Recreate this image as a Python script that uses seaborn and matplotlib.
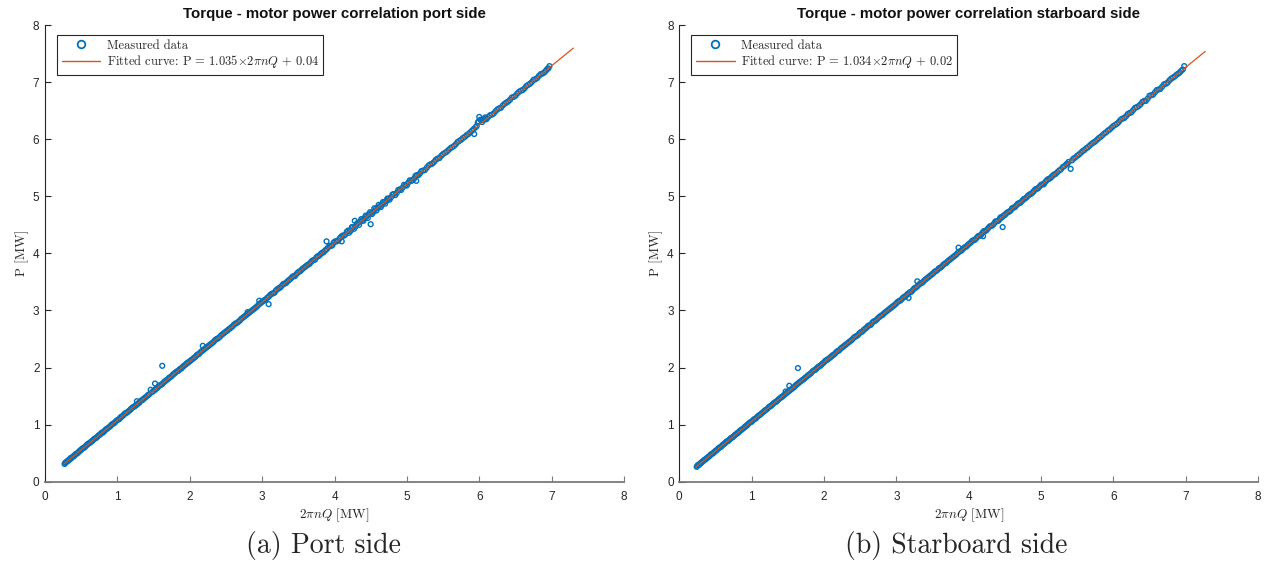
import matplotlib
matplotlib.use("Agg")
import matplotlib.pyplot as plt
from matplotlib.lines import Line2D
import pandas as pd
import seaborn as sns

# ---------------------------------------------------------------- data
port_x = [0.27, 0.29, 0.31, 0.33, 0.35, 0.37, 0.40, 0.42, 0.45, 0.48, 0.50, 0.53, 0.56, 0.59, 0.62, 0.65,
          0.68, 0.71, 0.74, 0.77, 0.80, 0.83, 0.86, 0.90, 0.93, 0.96, 1.00, 1.03, 1.06, 1.10, 1.13, 1.17,
          1.20, 1.24, 1.27, 1.27, 1.30, 1.34, 1.37, 1.41, 1.44, 1.46, 1.48, 1.52, 1.52, 1.55, 1.59, 1.62,
          1.62, 1.66, 1.70, 1.73, 1.77, 1.80, 1.84, 1.88, 1.91, 1.95, 1.98, 2.02, 2.06, 2.10, 2.13, 2.17,
          2.21, 2.18, 2.25, 2.29, 2.33, 2.37, 2.41, 2.45, 2.49, 2.53, 2.57, 2.61, 2.65, 2.69, 2.73, 2.77,
          2.80, 2.81, 2.85, 2.89, 2.93, 2.96, 2.97, 3.01, 3.05, 3.09, 3.09, 3.13, 3.17, 3.21, 3.25, 3.29,
          3.33, 3.37, 3.41, 3.45, 3.49, 3.53, 3.57, 3.61, 3.65, 3.69, 3.73, 3.77, 3.81, 3.85, 3.89, 3.89,
          3.93, 3.97, 4.01, 4.05, 4.09, 4.10, 4.13, 4.17, 4.20, 4.24, 4.27, 4.28, 4.31, 4.34, 4.37, 4.40,
          4.43, 4.46, 4.49, 4.50, 4.52, 4.55, 4.58, 4.61, 4.64, 4.67, 4.70, 4.73, 4.76, 4.80, 4.84, 4.88,
          4.92, 4.96, 5.00, 5.04, 5.08, 5.12, 5.13, 5.16, 5.20, 5.25, 5.30, 5.35, 5.40, 5.45, 5.50, 5.55,
          5.60, 5.65, 5.70, 5.75, 5.80, 5.85, 5.90, 5.95, 5.98, 6.00, 6.03, 5.93, 6.08, 6.10, 6.15, 6.20,
          6.25, 6.30, 6.35, 6.40, 6.45, 6.50, 6.55, 6.60, 6.65, 6.70, 6.75, 6.80, 6.85, 6.90, 6.94, 6.97]
port_p = [0.31, 0.34, 0.36, 0.38, 0.41, 0.42, 0.45, 0.48, 0.50, 0.54, 0.56, 0.59, 0.62, 0.66, 0.68, 0.71,
          0.75, 0.77, 0.81, 0.84, 0.86, 0.90, 0.93, 0.97, 1.01, 1.03, 1.08, 1.10, 1.14, 1.19, 1.21, 1.25,
          1.29, 1.32, 1.35, 1.41, 1.38, 1.43, 1.46, 1.50, 1.53, 1.61, 1.57, 1.61, 1.72, 1.64, 1.69, 1.71,
          2.03, 1.76, 1.80, 1.83, 1.88, 1.91, 1.94, 1.98, 2.02, 2.06, 2.09, 2.13, 2.17, 2.22, 2.24, 2.29,
          2.33, 2.38, 2.37, 2.41, 2.45, 2.50, 2.53, 2.58, 2.62, 2.66, 2.70, 2.75, 2.78, 2.82, 2.87, 2.91,
          2.97, 2.95, 2.99, 3.03, 3.07, 3.17, 3.12, 3.16, 3.19, 3.11, 3.24, 3.29, 3.31, 3.37, 3.40, 3.46,
          3.48, 3.53, 3.58, 3.60, 3.66, 3.69, 3.74, 3.78, 3.81, 3.87, 3.89, 3.95, 3.99, 4.02, 4.21, 4.07,
          4.13, 4.14, 4.21, 4.22, 4.29, 4.21, 4.31, 4.38, 4.36, 4.46, 4.43, 4.57, 4.52, 4.50, 4.60, 4.57,
          4.66, 4.62, 4.72, 4.51, 4.69, 4.79, 4.75, 4.85, 4.81, 4.90, 4.87, 4.96, 4.94, 5.03, 5.02, 5.11,
          5.11, 5.20, 5.19, 5.28, 5.28, 5.36, 5.27, 5.37, 5.44, 5.46, 5.54, 5.57, 5.64, 5.67, 5.74, 5.78,
          5.84, 5.88, 5.95, 5.99, 6.04, 6.09, 6.15, 6.21, 6.29, 6.39, 6.33, 6.09, 6.38, 6.35, 6.42, 6.45,
          6.52, 6.55, 6.62, 6.66, 6.73, 6.76, 6.83, 6.86, 6.93, 6.97, 7.04, 7.07, 7.14, 7.17, 7.23, 7.28]
port_x_b = [0.28, 0.30, 0.32, 0.34, 0.36, 0.385, 0.41, 0.435, 0.465, 0.49, 0.515, 0.545, 0.575, 0.605,
            0.635, 0.665, 0.695, 0.725, 0.755, 0.785, 0.815, 0.845, 0.88, 0.915, 0.945, 0.98, 1.015,
            1.045, 1.08, 1.115, 1.15, 1.185, 1.22, 1.255, 1.285, 1.32, 1.355, 1.39, 1.425, 1.50, 1.535,
            1.57, 1.605, 1.64, 1.68, 1.715, 1.75, 1.785, 1.82, 1.86, 1.895, 1.93, 1.965, 2.00, 2.04, 2.08,
            2.115, 2.15, 2.19, 2.23, 2.27, 2.31, 2.35, 2.39, 2.43, 2.47, 2.51, 2.55, 2.59, 2.63, 2.67,
            2.71, 2.75, 2.79, 2.83, 2.87, 2.91, 2.95, 2.99, 3.03, 3.07, 3.11, 3.15, 3.19, 3.23, 3.27,
            3.31, 3.35, 3.39, 3.43, 3.47, 3.51, 3.55, 3.59, 3.63, 3.67, 3.71, 3.75, 3.79, 3.83, 3.87,
            3.91, 3.95, 3.99, 4.03, 4.07, 4.11, 4.15, 4.19, 4.22, 4.25, 4.29, 4.32, 4.35, 4.38, 4.41,
            4.44, 4.47, 4.51, 4.54, 4.57, 4.60, 4.63, 4.66, 4.69, 4.72, 4.75, 4.78, 4.82, 4.86, 4.90,
            4.94, 4.98, 5.02, 5.06, 5.10, 5.14, 5.18, 5.225, 5.275, 5.325, 5.375, 5.425, 5.475, 5.525,
            5.575, 5.625, 5.675, 5.725, 5.775, 5.825, 5.875, 5.925, 5.965, 5.99, 6.015, 6.04, 6.065,
            6.09, 6.125, 6.175, 6.225, 6.275, 6.325, 6.375, 6.425, 6.475, 6.525, 6.575, 6.625, 6.675,
            6.725, 6.775, 6.825, 6.875, 6.92, 6.955]
port_p_b = [0.33, 0.35, 0.37, 0.39, 0.41, 0.44, 0.46, 0.49, 0.52, 0.55, 0.58, 0.60, 0.64, 0.67,
            0.70, 0.73, 0.76, 0.79, 0.82, 0.86, 0.88, 0.92, 0.95, 0.99, 1.02, 1.06, 1.09,
            1.13, 1.16, 1.20, 1.23, 1.27, 1.31, 1.34, 1.37, 1.41, 1.44, 1.48, 1.52, 1.59, 1.63,
            1.67, 1.70, 1.74, 1.78, 1.82, 1.85, 1.89, 1.93, 1.97, 2.00, 2.04, 2.08, 2.11, 2.15, 2.19,
            2.23, 2.27, 2.31, 2.35, 2.39, 2.43, 2.48, 2.51, 2.56, 2.60, 2.64, 2.68, 2.72, 2.77, 2.80,
            2.85, 2.89, 2.93, 2.97, 3.01, 3.05, 3.10, 3.14, 3.18, 3.22, 3.27, 3.30, 3.35, 3.39, 3.43,
            3.47, 3.51, 3.55, 3.60, 3.63, 3.68, 3.72, 3.76, 3.80, 3.84, 3.88, 3.93, 3.96, 4.01, 4.05,
            4.10, 4.13, 4.19, 4.21, 4.26, 4.31, 4.33, 4.40, 4.39, 4.45, 4.47, 4.53, 4.55, 4.58, 4.61,
            4.64, 4.68, 4.71, 4.73, 4.78, 4.80, 4.83, 4.86, 4.90, 4.92, 4.96, 4.98, 5.04, 5.06, 5.12,
            5.15, 5.19, 5.24, 5.27, 5.31, 5.37, 5.40, 5.45, 5.50, 5.56, 5.60, 5.66, 5.71, 5.76,
            5.81, 5.86, 5.91, 5.97, 6.02, 6.07, 6.12, 6.18, 6.23, 6.31, 6.34, 6.30, 6.34,
            6.36, 6.39, 6.43, 6.49, 6.54, 6.59, 6.64, 6.69, 6.74, 6.80, 6.85, 6.89, 6.95,
            7.00, 7.05, 7.11, 7.15, 7.20, 7.24]

stbd_x = [0.24, 0.26, 0.28, 0.30, 0.32, 0.35, 0.38, 0.41, 0.44, 0.47, 0.50, 0.53, 0.56, 0.59, 0.62, 0.65,
          0.68, 0.71, 0.74, 0.77, 0.80, 0.83, 0.86, 0.90, 0.93, 0.96, 1.00, 1.03, 1.06, 1.10, 1.13, 1.17,
          1.20, 1.24, 1.27, 1.30, 1.34, 1.37, 1.41, 1.44, 1.47, 1.48, 1.52, 1.52, 1.55, 1.59, 1.62, 1.64,
          1.66, 1.70, 1.73, 1.77, 1.80, 1.84, 1.88, 1.91, 1.95, 1.98, 2.02, 2.06, 2.10, 2.13, 2.17, 2.21,
          2.25, 2.29, 2.33, 2.37, 2.41, 2.45, 2.49, 2.53, 2.57, 2.61, 2.65, 2.69, 2.73, 2.77, 2.81, 2.85,
          2.89, 2.93, 2.97, 3.01, 3.05, 3.09, 3.13, 3.17, 3.17, 3.21, 3.25, 3.29, 3.29, 3.33, 3.37, 3.41,
          3.45, 3.49, 3.53, 3.57, 3.61, 3.65, 3.69, 3.73, 3.77, 3.81, 3.85, 3.86, 3.89, 3.93, 3.97, 4.01,
          4.05, 4.09, 4.13, 4.17, 4.20, 4.21, 4.25, 4.29, 4.33, 4.37, 4.41, 4.44, 4.47, 4.48, 4.52, 4.56,
          4.60, 4.64, 4.68, 4.72, 4.76, 4.80, 4.84, 4.88, 4.92, 4.96, 5.00, 5.04, 5.08, 5.12, 5.16, 5.20,
          5.25, 5.30, 5.35, 5.38, 5.41, 5.45, 5.50, 5.55, 5.60, 5.65, 5.70, 5.75, 5.80, 5.85, 5.90, 5.95,
          6.00, 6.05, 6.10, 6.15, 6.20, 6.25, 6.30, 6.35, 6.40, 6.45, 6.50, 6.55, 6.60, 6.65, 6.70, 6.75,
          6.80, 6.85, 6.90, 6.94, 6.98]
stbd_p = [0.26, 0.29, 0.30, 0.33, 0.35, 0.38, 0.41, 0.44, 0.48, 0.50, 0.54, 0.57, 0.60, 0.63, 0.66, 0.70,
          0.72, 0.76, 0.78, 0.82, 0.85, 0.88, 0.91, 0.95, 0.98, 1.02, 1.05, 1.09, 1.11, 1.16, 1.19, 1.23,
          1.26, 1.31, 1.33, 1.37, 1.40, 1.44, 1.48, 1.51, 1.58, 1.55, 1.68, 1.59, 1.62, 1.66, 1.70, 1.99,
          1.74, 1.78, 1.81, 1.85, 1.88, 1.93, 1.96, 2.00, 2.03, 2.07, 2.12, 2.15, 2.19, 2.22, 2.27, 2.30,
          2.35, 2.39, 2.43, 2.47, 2.52, 2.55, 2.60, 2.63, 2.68, 2.73, 2.75, 2.81, 2.84, 2.89, 2.92, 2.97,
          3.01, 3.05, 3.09, 3.14, 3.17, 3.22, 3.25, 3.22, 3.30, 3.33, 3.39, 3.51, 3.42, 3.47, 3.50, 3.55,
          3.59, 3.63, 3.68, 3.71, 3.75, 3.80, 3.83, 3.88, 3.92, 3.96, 4.01, 4.10, 4.04, 4.09, 4.12, 4.17,
          4.22, 4.24, 4.30, 4.32, 4.30, 4.39, 4.41, 4.47, 4.49, 4.56, 4.57, 4.63, 4.46, 4.66, 4.70, 4.73,
          4.79, 4.81, 4.87, 4.89, 4.95, 4.98, 5.03, 5.06, 5.12, 5.14, 5.20, 5.21, 5.28, 5.31, 5.36, 5.39,
          5.45, 5.51, 5.56, 5.60, 5.48, 5.66, 5.71, 5.76, 5.81, 5.86, 5.92, 5.96, 6.02, 6.07, 6.12, 6.17,
          6.23, 6.27, 6.34, 6.37, 6.44, 6.47, 6.55, 6.58, 6.65, 6.67, 6.76, 6.78, 6.86, 6.88, 6.96, 6.99,
          7.06, 7.10, 7.15, 7.20, 7.28]
stbd_x_b = [0.25, 0.27, 0.29, 0.31, 0.335, 0.365, 0.395, 0.425, 0.455, 0.485, 0.515, 0.545, 0.575,
            0.605, 0.635, 0.665, 0.695, 0.725, 0.755, 0.785, 0.815, 0.845, 0.88, 0.915, 0.945, 0.98,
            1.015, 1.045, 1.08, 1.115, 1.15, 1.185, 1.22, 1.255, 1.285, 1.32, 1.355, 1.39, 1.425, 1.46,
            1.50, 1.535, 1.57, 1.605, 1.64, 1.68, 1.715, 1.75, 1.785, 1.82, 1.86, 1.895, 1.93, 1.965,
            2.00, 2.04, 2.08, 2.115, 2.15, 2.19, 2.23, 2.27, 2.31, 2.35, 2.39, 2.43, 2.47, 2.51, 2.55,
            2.59, 2.63, 2.67, 2.71, 2.75, 2.79, 2.83, 2.87, 2.91, 2.95, 2.99, 3.03, 3.07, 3.11, 3.15,
            3.19, 3.23, 3.27, 3.31, 3.35, 3.39, 3.43, 3.47, 3.51, 3.55, 3.59, 3.63, 3.67, 3.71, 3.75,
            3.79, 3.83, 3.87, 3.91, 3.95, 3.99, 4.03, 4.07, 4.11, 4.15, 4.19, 4.23, 4.27, 4.31, 4.35,
            4.39, 4.43, 4.46, 4.50, 4.54, 4.58, 4.62, 4.66, 4.70, 4.74, 4.78, 4.82, 4.86, 4.90, 4.94,
            4.98, 5.02, 5.06, 5.10, 5.14, 5.18, 5.225, 5.275, 5.325, 5.365, 5.43, 5.475, 5.525, 5.575,
            5.625, 5.675, 5.725, 5.775, 5.825, 5.875, 5.925, 5.975, 6.025, 6.075, 6.125, 6.175, 6.225,
            6.275, 6.325, 6.375, 6.425, 6.475, 6.525, 6.575, 6.625, 6.675, 6.725, 6.775, 6.825, 6.875,
            6.92, 6.96]
stbd_p_b = [0.28, 0.30, 0.32, 0.34, 0.37, 0.40, 0.43, 0.46, 0.49, 0.52, 0.55, 0.59, 0.61,
            0.65, 0.68, 0.71, 0.74, 0.77, 0.80, 0.83, 0.86, 0.90, 0.93, 0.97, 1.00, 1.04,
            1.07, 1.10, 1.14, 1.17, 1.21, 1.25, 1.28, 1.32, 1.35, 1.39, 1.42, 1.46, 1.49, 1.53,
            1.57, 1.61, 1.64, 1.68, 1.72, 1.76, 1.79, 1.83, 1.87, 1.90, 1.95, 1.98, 2.02, 2.05,
            2.09, 2.13, 2.17, 2.21, 2.24, 2.29, 2.33, 2.37, 2.41, 2.45, 2.49, 2.54, 2.57, 2.62, 2.66,
            2.70, 2.74, 2.79, 2.82, 2.87, 2.91, 2.95, 2.99, 3.03, 3.07, 3.11, 3.16, 3.19, 3.24, 3.28,
            3.32, 3.36, 3.40, 3.45, 3.48, 3.53, 3.57, 3.61, 3.65, 3.69, 3.74, 3.77, 3.82, 3.86, 3.90,
            3.94, 3.98, 4.03, 4.06, 4.11, 4.15, 4.19, 4.23, 4.27, 4.31, 4.36, 4.39, 4.44, 4.48, 4.52,
            4.56, 4.60, 4.63, 4.67, 4.72, 4.75, 4.80, 4.84, 4.88, 4.92, 4.96, 5.01, 5.04, 5.09, 5.13,
            5.17, 5.21, 5.25, 5.30, 5.33, 5.38, 5.42, 5.47, 5.53, 5.57, 5.63, 5.68, 5.73, 5.79,
            5.84, 5.89, 5.94, 5.99, 6.04, 6.10, 6.15, 6.20, 6.25, 6.30, 6.36, 6.40, 6.46,
            6.51, 6.56, 6.61, 6.67, 6.71, 6.77, 6.82, 6.87, 6.92, 6.97, 7.03, 7.08, 7.13,
            7.17, 7.22]

# linear fits P = a * 2*pi*n*Q + b, and the span each fitted line covers
port_fit = (1.035, 0.04)
stbd_fit = (1.034, 0.02)
port_span = [0.27, 7.30]
stbd_span = [0.24, 7.27]

titles = ["Torque - motor power correlation port side",
          "Torque - motor power correlation starboard side"]
captions = ["(a) Port side", "(b) Starboard side"]
ticks = [0, 1, 2, 3, 4, 5, 6, 7, 8]

# ---------------------------------------------------------------- style
BLUE = "#0072BD"
ORANGE = "#D95319"
AXC = "#262626"
SERIF = "cmr10"
SANS = ["Liberation Sans", "DejaVu Sans"]

sns.set_style("white")
plt.rcParams["font.family"] = SANS
plt.rcParams["mathtext.fontset"] = "cm"
plt.rcParams["axes.unicode_minus"] = False

fig = plt.figure(figsize=(12.68, 5.73), dpi=100)
W, H = 1268, 573
ax_boxes = [(45, 25, 624, 481.7), (679.3, 25, 1258, 481.7)]
axes = [fig.add_axes([l / W, 1 - b / H, (r - l) / W, (b - t) / H]) for (l, t, r, b) in ax_boxes]

panels = [(port_x + port_x_b, port_p + port_p_b, port_fit, port_span),
          (stbd_x + stbd_x_b, stbd_p + stbd_p_b, stbd_fit, stbd_span)]

for i, (ax, (xs, ps, fit, span)) in enumerate(zip(axes, panels)):
    df = pd.DataFrame({"torque_power": xs, "motor_power": ps})
    sns.scatterplot(data=df, x="torque_power", y="motor_power", ax=ax,
                    marker="o", s=12, facecolor="none", edgecolor=BLUE,
                    linewidth=1.0, zorder=2)
    a, b = fit
    line = pd.DataFrame({"x": span, "y": [a * v + b for v in span]})
    sns.lineplot(data=line, x="x", y="y", ax=ax, color=ORANGE, lw=0.9, zorder=3)

    ax.set_xlim(0, 8)
    ax.set_ylim(0, 8)
    ax.set_xticks(ticks)
    ax.set_yticks(ticks)
    ax.tick_params(bottom=True, left=True, direction="in", length=4.5, width=0.8,
                   colors=AXC, labelsize=8.5)
    ax.tick_params(axis="x", pad=7, colors="#7a7a7a", labelcolor=AXC)
    ax.tick_params(axis="y", pad=4)
    for lab in ax.get_xticklabels() + ax.get_yticklabels():
        lab.set_family(SANS)

    for side in ("top", "right"):
        ax.spines[side].set_visible(False)
    ax.spines["left"].set_color(AXC)
    ax.spines["left"].set_linewidth(0.8)
    ax.spines["bottom"].set_color("#7a7a7a")
    ax.spines["bottom"].set_linewidth(1.3)

    ax.set_title(titles[i], fontsize=10.8, fontweight="bold", color="#111111", pad=5, family=SANS)
    ax.set_xlabel(r"$2\pi nQ$ [MW]", fontsize=9.5, family=SERIF, color=AXC, labelpad=2)
    ax.set_ylabel("P [MW]", fontsize=9.5, family=SERIF, color=AXC, labelpad=3)

    handles = [Line2D([], [], ls="none", marker="o", ms=5.5, mfc="none", mec=BLUE, mew=1.3),
               Line2D([], [], color=ORANGE, lw=1.0)]
    labels = ["Measured data",
              "Fitted curve: P = %.3f" % a + r"$\times 2\pi nQ$" + " + %.2f" % b]
    leg = ax.legend(handles, labels, loc="upper left", bbox_to_anchor=(0.021, 0.978),
                    borderaxespad=0, frameon=True, fancybox=False, framealpha=1,
                    handlelength=3.1, handletextpad=0.5, labelspacing=0.15,
                    borderpad=0.35, prop={"family": SERIF, "size": 9})
    leg.get_frame().set_edgecolor(AXC)
    leg.get_frame().set_linewidth(0.8)

caption_x = [323, 956]
for cx, cap in zip(caption_x, captions):
    fig.text(cx / W, 1 - 546 / H, cap, ha="center", va="center", fontsize=20, family=SERIF)

fig.savefig("out.png", dpi=100, facecolor="white")
